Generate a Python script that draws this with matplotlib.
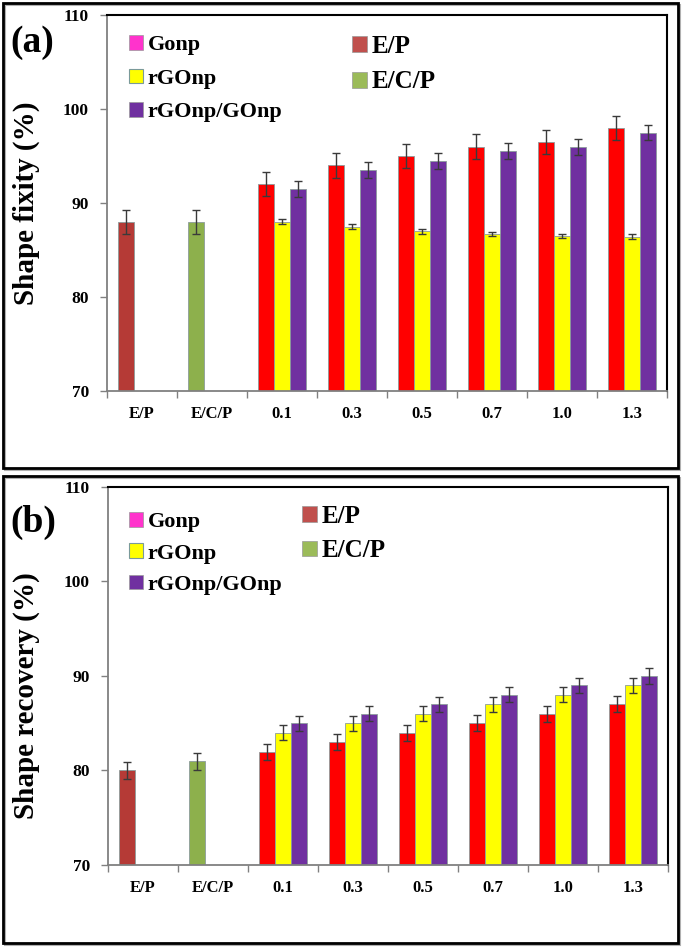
import numpy as np
import matplotlib
matplotlib.use('Agg')
import matplotlib.pyplot as plt
from matplotlib.patches import Patch, Rectangle

plt.rcParams['font.family'] = ['Liberation Serif', 'DejaVu Serif']
plt.rcParams['font.weight'] = 'bold'

# categories on the x axis
groups = ['E/P', 'E/C/P', '0.1', '0.3', '0.5', '0.7', '1.0', '1.3']
loadings = ['0.1', '0.3', '0.5', '0.7', '1.0', '1.3']

# (a) shape fixity
fix_ep, fix_ep_err = 88.0, 1.3
fix_ecp, fix_ecp_err = 88.0, 1.3
fix_red = [92.0, 94.0, 95.0, 96.0, 96.5, 98.0]
fix_red_err = [1.3, 1.3, 1.3, 1.3, 1.3, 1.3]
fix_yel = [88.0, 87.5, 87.0, 86.7, 86.5, 86.4]
fix_yel_err = [0.25, 0.25, 0.25, 0.25, 0.25, 0.25]
fix_pur = [91.5, 93.5, 94.5, 95.5, 96.0, 97.5]
fix_pur_err = [0.85, 0.85, 0.85, 0.85, 0.85, 0.85]

# (b) shape recovery
rec_ep, rec_ep_err = 80.0, 0.9
rec_ecp, rec_ecp_err = 81.0, 0.9
rec_red = [82.0, 83.0, 84.0, 85.0, 86.0, 87.0]
rec_red_err = [0.85, 0.85, 0.85, 0.85, 0.85, 0.85]
rec_yel = [84.0, 85.0, 86.0, 87.0, 88.0, 89.0]
rec_yel_err = [0.8, 0.8, 0.8, 0.8, 0.8, 0.8]
rec_pur = [85.0, 86.0, 87.0, 88.0, 89.0, 90.0]
rec_pur_err = [0.8, 0.8, 0.8, 0.8, 0.8, 0.8]

c_gonp = '#ff33cc'
c_ep = '#c0504d'
c_ep_bar = '#b53a36'
c_ecp = '#9bbb59'
c_ecp_bar = '#8db04c'
c_red = '#ff0000'
c_yel = '#ffff00'
c_pur = '#7030a0'

W, H = 685, 948
fig = plt.figure(figsize=(W / 100, H / 100), dpi=100)


def fx(px):
    return px / W


def fy(py):
    return 1 - py / H


def panel(rect_px, ep, ep_err, ecp, ecp_err, red, red_err, yel, yel_err,
          pur, pur_err, ylabel, label_y, tag, tag_y, leg1, leg2):
    l, t, r, b = rect_px
    ax = fig.add_axes([fx(l), fy(b), fx(r) - fx(l), fy(t) - fy(b)])
    w = 16 / 70
    x = np.arange(len(groups))
    xl = x[2:]
    ekw = dict(ecolor='#3a3a3a', elinewidth=1, capsize=3, capthick=1)
    edge = dict(edgecolor='#8c9c9c', linewidth=0.6)
    ax.bar(x[0] - w, ep, w, yerr=ep_err, color=c_ep_bar, error_kw=ekw, **edge)
    ax.bar(x[1] - w, ecp, w, yerr=ecp_err, color=c_ecp_bar, error_kw=ekw, **edge)
    ax.bar(xl - w, red, w, yerr=red_err, color=c_red, error_kw=ekw, **edge)
    ax.bar(xl, yel, w, yerr=yel_err, color=c_yel, error_kw=ekw, **edge)
    ax.bar(xl + w, pur, w, yerr=pur_err, color=c_pur, error_kw=ekw, **edge)

    ax.set_xlim(-0.5, len(groups) - 0.5)
    ax.set_ylim(70, 110)
    ax.set_yticks([70, 80, 90, 100, 110])
    ax.set_xticks(x)
    ax.set_xticklabels(groups)
    ax.set_xticks(np.arange(-0.5, len(groups)), minor=True)
    ax.tick_params(axis='x', which='major', length=0, pad=11, labelsize=12)
    ax.tick_params(axis='x', which='minor', length=5, color='#808080', width=1)
    ax.tick_params(axis='y', length=5, color='#808080', width=1, pad=8,
                   labelsize=12.5)
    for s in ['left', 'bottom']:
        ax.spines[s].set_color('#808080')
        ax.spines[s].set_linewidth(1.3)
    for s in ['top', 'right']:
        ax.spines[s].set_color('black')
        ax.spines[s].set_linewidth(1.5)
    ax.set_ylabel(ylabel, fontsize=21, fontweight='bold', va='center')
    ax.yaxis.set_label_coords((26 - l) / (r - l), label_y)

    fig.text(fx(10), fy(tag_y), tag, fontsize=27, fontweight='bold',
             ha='left', va='center')

    h1 = [Patch(facecolor=c_gonp, edgecolor='#999999', lw=0.5),
          Patch(facecolor=c_yel, edgecolor='#7a9a9a', lw=0.8),
          Patch(facecolor=c_pur, edgecolor='#999999', lw=0.5)]
    h2 = [Patch(facecolor=c_ep, edgecolor='#999999', lw=0.5),
          Patch(facecolor=c_ecp, edgecolor='#999999', lw=0.5)]
    lg1 = ax.legend(h1, ['Gonp', 'rGOnp', 'rGOnp/GOnp'], loc='upper left',
                    bbox_to_anchor=(fx(leg1[0]), fy(leg1[1])),
                    bbox_transform=fig.transFigure, frameon=False,
                    borderpad=0, fontsize=16, handlelength=0.65,
                    handleheight=0.65, handletextpad=0.2,
                    labelspacing=leg1[2], borderaxespad=0)
    ax.add_artist(lg1)
    ax.legend(h2, ['E/P', 'E/C/P'], loc='upper left',
              bbox_to_anchor=(fx(leg2[0]), fy(leg2[1])),
              bbox_transform=fig.transFigure, frameon=False,
              borderpad=0, fontsize=18, handlelength=0.6,
              handleheight=0.6, handletextpad=0.2,
              labelspacing=leg2[2], borderaxespad=0)
    return ax


panel((107, 15, 667, 391), fix_ep, fix_ep_err, fix_ecp, fix_ecp_err,
      fix_red, fix_red_err, fix_yel, fix_yel_err, fix_pur, fix_pur_err,
      'Shape fixity (%)', 0.5, '(a)', 43,
      (129, 35, 0.6), (352, 35, 0.5))
panel((108, 487, 668, 865), rec_ep, rec_ep_err, rec_ecp, rec_ecp_err,
      rec_red, rec_red_err, rec_yel, rec_yel_err, rec_pur, rec_pur_err,
      'Shape recovery (%)', 0.447, '(b)', 522,
      (129, 512, 0.5), (302, 505, 0.45))

# outer frames around each panel
for (x0, y0, x1, y1) in [(3, 3, 678, 468), (3, 476, 678, 943)]:
    fig.patches.append(Rectangle((fx(x0) + 0.003, fy(y1) - 0.002),
                                 fx(x1) - fx(x0), fy(y0) - fy(y1),
                                 transform=fig.transFigure, fill=False,
                                 edgecolor='#b0b0b0', lw=1.5))
    fig.patches.append(Rectangle((fx(x0), fy(y1)), fx(x1) - fx(x0),
                                 fy(y0) - fy(y1), transform=fig.transFigure,
                                 fill=False, edgecolor='black', lw=2))

fig.savefig('out.png', dpi=100)
